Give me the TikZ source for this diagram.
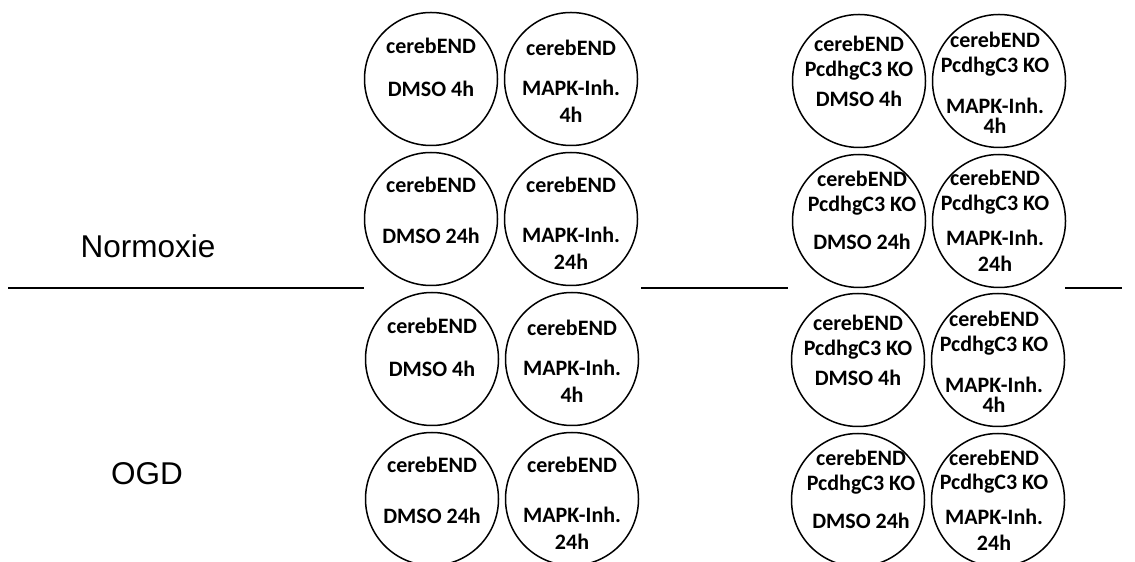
\documentclass[tikz,border=0pt]{standalone}
\usepackage{fontspec}
\setmainfont{Liberation Sans}
\newfontfamily\wellfont{Carlito}
\usetikzlibrary{positioning}

\tikzstyle{well} = [circle, 
draw=black, 
line width=1.5pt, 
minimum size=133pt, 
inner sep=0pt]
\tikzstyle{wellnote} = [align=center, 
inner sep=0pt, 
font=\wellfont\bfseries\fontsize{22}{25}\selectfont]
\tikzstyle{condition} = [font=\fontsize{31.5}{36}\selectfont]
\tikzstyle{divider} = [line width=2pt]

\begin{document}
\begin{tikzpicture}[x=1pt, y=1pt, node distance=140pt]
    \useasboundingbox (0,0) rectangle (1135,562);

    % conditions
    \node (normo) [condition] at (148,316) {Normoxie};
    \node (ogd) [condition] at (147,88) {OGD};

    % cerebEND, normoxia
    \node (wA1) [well] at (431,483) {};
    \node (wA2) [well, right of=wA1] {};
    \node (wA3) [well, below of=wA1] {};
    \node (wA4) [well, right of=wA3] {};
    \node (tA1) [wellnote, yshift=8.5pt] at (wA1) {cerebEND\strut\\[18pt]DMSO 4h\strut};
    \node (tA2) [wellnote, yshift=-5.5pt] at (wA2) {cerebEND\strut\\[15pt]MAPK-Inh.\strut\\[2pt]4h\strut};
    \node (tA3) [wellnote, yshift=5.5pt] at (wA3) {cerebEND\strut\\[26pt]DMSO 24h\strut};
    \node (tA4) [wellnote, yshift=-7.5pt] at (wA4) {cerebEND\strut\\[25pt]MAPK-Inh.\strut\\[2pt]24h\strut};

    % cerebEND PcdhgC3 KO, normoxia
    \node (wB1) [well] at (859,481) {};
    \node (wB2) [well, right of=wB1] {};
    \node (wB3) [well, below of=wB1] {};
    \node (wB4) [well, right of=wB3] {};
    \node (tB1) [wellnote, yshift=6.5pt] at (wB1) {cerebEND\strut\\PcdhgC3 KO\strut\\[5pt]DMSO 4h\strut};
    \node (tB2) [wellnote, yshift=-5pt, xshift=-4pt] at (wB2) {cerebEND\strut\\PcdhgC3 KO\strut\\[16pt]MAPK-Inh.\strut\\[-5pt]4h\strut};
    \node (tB3) [wellnote, yshift=7.5pt, xshift=3pt] at (wB3) {cerebEND\strut\\PcdhgC3 KO\strut\\[13pt]DMSO 24h\strut};
    \node (tB4) [wellnote, yshift=-3pt, xshift=-4pt] at (wB4) {cerebEND\strut\\PcdhgC3 KO\strut\\[10pt]MAPK-Inh.\strut\\[1pt]24h\strut};

    % cerebEND, OGD
    \node (wC1) [well] at (432,203) {};
    \node (wC2) [well, right of=wC1] {};
    \node (wC3) [well, below of=wC1] {};
    \node (wC4) [well, right of=wC3] {};
    \node (tC1) [wellnote, yshift=8.5pt] at (wC1) {cerebEND\strut\\[18pt]DMSO 4h\strut};
    \node (tC2) [wellnote, yshift=-5.5pt] at (wC2) {cerebEND\strut\\[15pt]MAPK-Inh.\strut\\[2pt]4h\strut};
    \node (tC3) [wellnote, yshift=5.5pt] at (wC3) {cerebEND\strut\\[26pt]DMSO 24h\strut};
    \node (tC4) [wellnote, yshift=-7.5pt] at (wC4) {cerebEND\strut\\[25pt]MAPK-Inh.\strut\\[2pt]24h\strut};

    % cerebEND PcdhgC3 KO, OGD
    \node (wD1) [well] at (858,202) {};
    \node (wD2) [well, right of=wD1] {};
    \node (wD3) [well, below of=wD1] {};
    \node (wD4) [well, right of=wD3] {};
    \node (tD1) [wellnote, yshift=6.5pt] at (wD1) {cerebEND\strut\\PcdhgC3 KO\strut\\[5pt]DMSO 4h\strut};
    \node (tD2) [wellnote, yshift=-5pt, xshift=-4pt] at (wD2) {cerebEND\strut\\PcdhgC3 KO\strut\\[16pt]MAPK-Inh.\strut\\[-5pt]4h\strut};
    \node (tD3) [wellnote, yshift=7.5pt, xshift=3pt] at (wD3) {cerebEND\strut\\PcdhgC3 KO\strut\\[13pt]DMSO 24h\strut};
    \node (tD4) [wellnote, yshift=-3pt, xshift=-4pt] at (wD4) {cerebEND\strut\\PcdhgC3 KO\strut\\[10pt]MAPK-Inh.\strut\\[1pt]24h\strut};

    % dividing line between the two conditions
    \coordinate (d1) at (8,274);
    \coordinate (d2) at (364,274);
    \coordinate (d3) at (641,274);
    \coordinate (d4) at (788,274);
    \coordinate (d5) at (1065,274);
    \coordinate (d6) at (1122,274);
    \draw [divider] (d1) -- (d2);
    \draw [divider] (d3) -- (d4);
    \draw [divider] (d5) -- (d6);
\end{tikzpicture}
\end{document}
